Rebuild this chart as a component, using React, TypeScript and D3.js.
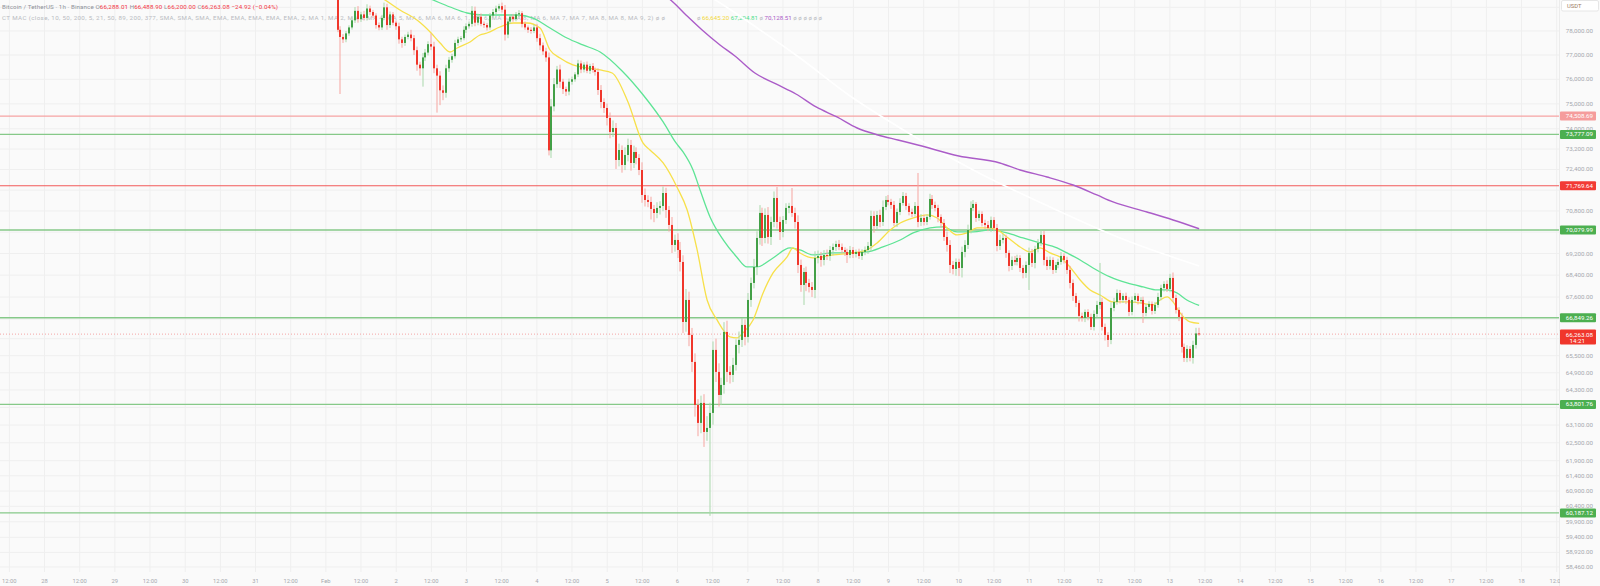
import React from "react";
import * as d3 from "d3";

const HOUR = 3600000;
const firstCandleTime = Date.UTC(2026, 1, 1, 4);
const firstOpen = 79400;

const closes = [
  78050, 77750, 77650, 77900, 78150, 78450, 78850, 78500, 78700, 78550,
  78950, 78800, 78650, 78250, 78150, 78550, 79000, 78250, 78700, 78350,
  78200, 77650, 77500, 77750, 77850, 77700, 77200, 76600, 76450, 76900,
  77100, 77450, 77350, 76450, 76150, 75550, 75450, 76450, 76800, 76950,
  77500, 77650, 77700, 78050, 78200, 78300, 78850, 78350, 78600, 78300,
  78250, 78150, 78650, 78800, 78950, 79050, 78900, 77850, 78400, 78600,
  78500, 78700, 78750, 78300, 78150, 78050, 78000, 78150, 77700, 77400,
  77150, 76900, 73150, 74900, 75800, 76400, 75900, 75600, 75500, 75900,
  76000, 76200, 76650, 76400, 76600, 76350, 76546, 76381, 76300, 75563,
  75077, 74836, 74434, 73876, 74034, 72771, 73163, 72576, 72967, 73361,
  72654, 73085, 72850, 72380, 71414, 71222, 71146, 70879, 70726, 70917,
  70993, 71490, 70840, 70271, 69519, 69706, 69332, 68886, 66698, 67492,
  66234, 65279, 63786, 63172, 63855, 62866, 63002, 63512, 65702, 64929,
  64130, 64476, 66341, 64929, 64825, 65174, 65879, 66056, 66591, 66163,
  67492, 68112, 68701, 69782, 70726, 69782, 70650, 69819, 70384, 71299,
  70384, 70007, 70460, 70917, 70993, 70726, 70384, 68775, 68039, 68516,
  68112, 67966, 67856, 69034, 69109, 68960, 69146, 69109, 69332, 69444,
  69557, 69444, 69332, 69258, 69146, 69332, 69183, 69258, 69109, 69258,
  69332, 69482, 70612, 70233, 70650, 70384, 70955, 71222, 71146, 71031,
  70346, 70764, 71108, 71375, 70993, 70764, 70688, 70993, 70384, 70536,
  70384, 70574, 71260, 71031, 70917, 70574, 70346, 69819, 69519, 68775,
  68627, 68886, 68664, 69258, 69519, 70082, 70917, 71070, 70536, 70688,
  70346, 70271, 70158, 70460, 70158, 69482, 69706, 69782, 69221, 68738,
  68960, 68886, 69034, 68664, 68480, 68775, 69221, 68849, 69370, 69594,
  69895, 68960, 68738, 68960, 68590, 68775, 68886, 69109, 68960, 68590,
  68112, 67638, 67383, 66914, 66842, 67058, 66878, 66520, 66986, 67311,
  67420, 66520, 66234, 66056, 67202, 67420, 67747, 67492, 67638, 67492,
  67058, 67492, 67638, 67456, 67492, 67022, 67239, 67347, 67094, 67311,
  67601, 67929, 68076, 67893, 68296, 67565, 67130, 66878, 65808, 65420,
  65737, 65420, 65879, 66288.01, 66263.08,
];

const wickUp = [
  300, 150, 120, 100, 90, 130, 160, 200, 110, 150,
  180, 120, 90, 100, 110, 130, 200, 150, 120, 100,
  90, 150, 110, 100, 120, 200, 130, 150, 120, 180,
  150, 120, 450, 200, 150, 180, 200, 150, 120, 100,
  130, 110, 90, 150, 120, 100, 200, 180, 120, 140,
  100, 90, 110, 130, 120, 100, 150, 200, 130, 110,
  120, 100, 130, 90, 100, 80, 110, 120, 150, 180,
  120, 150, 200, 300, 250, 150, 200, 120, 100, 130,
  110, 90, 150, 120, 100, 130, 90, 120, 100, 150,
  200, 150, 180, 220, 300, 200, 250, 180, 300, 250,
  200, 250, 180, 150, 300, 250, 180, 200, 150, 220,
  180, 250, 200, 150, 300, 200, 250, 300, 250, 400,
  300, 250, 300, 200, 250, 300, 400, 350, 300, 400,
  300, 250, 350, 400, 200, 250, 200, 300, 250, 200,
  250, 200, 300, 250, 300, 200, 250, 300, 200, 250,
  423, 200, 150, 180, 120, 690, 200, 250, 200, 150,
  200, 150, 180, 250, 200, 150, 180, 200, 150, 130,
  120, 150, 130, 100, 120, 150, 110, 90, 120, 100,
  130, 150, 200, 180, 150, 200, 250, 150, 192, 120,
  150, 130, 180, 150, 120, 100, 130, 150, 1271, 150,
  120, 100, 200, 150, 130, 120, 100, 150, 200, 180,
  150, 130, 120, 200, 180, 200, 250, 150, 76, 130,
  100, 120, 150, 130, 110, 150, 200, 150, 120, 100,
  130, 150, 120, 100, 110, 130, 200, 150, 120, 150,
  200, 150, 120, 130, 100, 110, 120, 150, 100, 120,
  150, 130, 110, 100, 120, 90, 100, 120, 130, 150,
  1429, 150, 120, 100, 200, 150, 130, 110, 100, 120,
  100, 130, 110, 90, 100, 120, 110, 100, 90, 110,
  150, 120, 100, 130, 150, 200, 120, 100, 150, 120,
  130, 100, 150, 200, 200.89,
];

const wickDown = [
  100, 2350, 150, 120, 100, 90, 110, 150, 120, 100,
  110, 130, 100, 150, 120, 110, 90, 200, 120, 110,
  150, 180, 200, 120, 100, 130, 200, 250, 300, 750,
  150, 120, 150, 200, 1500, 600, 300, 200, 150, 120,
  100, 120, 110, 90, 130, 100, 120, 150, 110, 100,
  120, 130, 100, 90, 110, 100, 120, 250, 150, 100,
  110, 90, 120, 150, 100, 130, 110, 90, 150, 200,
  150, 180, 200, 300, 200, 150, 250, 200, 180, 150,
  120, 100, 110, 150, 120, 100, 130, 110, 150, 200,
  250, 200, 300, 250, 200, 350, 250, 300, 200, 250,
  300, 200, 250, 200, 300, 250, 200, 400, 350, 200,
  250, 200, 300, 250, 300, 250, 300, 350, 400, 350,
  400, 350, 400, 450, 350, 504, 300, 2912, 400, 350,
  400, 350, 300, 350, 300, 250, 200, 300, 250, 300,
  200, 250, 200, 300, 250, 300, 200, 250, 300, 200,
  250, 300, 200, 150, 200, 150, 250, 300, 250, 728,
  300, 200, 255, 300, 200, 250, 200, 150, 180, 200,
  150, 120, 130, 150, 297, 120, 150, 130, 110, 150,
  120, 150, 200, 250, 150, 200, 150, 120, 130, 150,
  113, 150, 120, 100, 150, 130, 120, 100, 200, 150,
  130, 120, 100, 150, 130, 200, 180, 150, 250, 300,
  200, 250, 300, 350, 200, 150, 130, 120, 150, 110,
  130, 150, 120, 150, 130, 200, 150, 130, 180, 200,
  150, 120, 130, 150, 200, 180, 919, 150, 200, 130,
  120, 200, 150, 130, 150, 110, 120, 100, 130, 150,
  200, 180, 150, 200, 130, 150, 120, 108, 130, 120,
  150, 130, 200, 248, 150, 120, 100, 130, 110, 150,
  150, 120, 110, 130, 100, 359, 120, 100, 130, 110,
  100, 120, 130, 110, 120, 150, 130, 150, 200, 141,
  150, 120, 200, 130, 63.08,
];

// moving averages: [hours after first candle, price]
const maFast: [number, number][] = [
  [12, 79600], [16.2, 79311], [21.3, 78886], [27.1, 78462], [31.6, 77958], [35, 77499], [38.4, 77124],
  [40.8, 77290], [45.2, 77540], [48.6, 77833], [51, 77916], [55.4, 78168], [59.9, 78336], [64.7, 78336],
  [69.1, 78126], [72.5, 77207], [75.9, 76875], [80.3, 76587], [85.1, 76464], [89.6, 76381], [93.7, 76258],
  [99.1, 75077], [104.2, 73440], [106.6, 73163], [111.1, 72654], [115.8, 71722], [119.3, 70840],
  [122.7, 69332], [126.1, 67492], [129.5, 66770], [133.9, 66163], [136.3, 66127], [138.3, 66306],
  [141.8, 66770], [145.2, 67747], [148.6, 68480], [153.4, 69072], [155.4, 69407], [157.8, 69221],
  [162.3, 69034], [169.1, 69146], [175.9, 69221], [180.7, 69332], [184.1, 69594], [188.6, 70082],
  [192, 70346], [196.4, 70536], [201.2, 70650], [204.6, 70536], [208, 70158], [211.4, 69895],
  [214.8, 69970], [218.2, 70158], [221.6, 70158], [225.1, 70082], [228.4, 69819], [232.9, 69444],
  [236.3, 69258], [239.7, 69407], [243.1, 69221], [246.5, 69072], [249.9, 68701], [253.4, 68222],
  [256.8, 67856], [260.2, 67674], [264.6, 67420], [269.4, 67420], [273.8, 67383], [278.3, 67311],
  [280.7, 67492], [283.1, 67601], [285.1, 67420], [287.5, 67022], [290.9, 66698], [294, 66645.2],
];
const maMid: [number, number][] = [
  [28, 79550], [32.6, 79311], [38.4, 79013], [44.2, 78759], [49.7, 78675], [55.4, 78675], [61.2, 78675],
  [66.7, 78546], [72.5, 78126], [78.3, 77707], [83.7, 77416], [89.6, 77124], [97.1, 76340], [104.3, 75360],
  [111.1, 74275], [115.5, 73440], [117.9, 73085], [121.3, 72380], [123.7, 71606], [127.1, 70574],
  [131.6, 69706], [136.2, 69072], [139.7, 68701], [143.1, 68701], [148.6, 69034], [154.4, 69407],
  [157.8, 69332], [162.3, 69146], [169.1, 69221], [174.9, 69221], [180.7, 69258], [186.1, 69444],
  [192, 69706], [196.4, 69970], [202.2, 70158], [206.6, 70195], [211.4, 70007], [216.9, 70007],
  [222.7, 70082], [228.4, 69970], [233.9, 69782], [239.7, 69594], [245.5, 69407], [248.9, 69221],
  [253.4, 68960], [257.8, 68664], [263.6, 68332], [269.4, 68112], [274.9, 67966], [279.6, 67856],
  [283, 67856], [286.4, 67747], [289.8, 67492], [294, 67294.81],
];
const maSlow: [number, number][] = [
  [110, 79600], [112.8, 79397], [118.9, 78675], [124.4, 78042], [130.5, 77416], [135.6, 76958],
  [142.4, 76258], [149.6, 75808], [156.4, 75401], [163.3, 74876], [170.4, 74474], [177.3, 74034],
  [184.4, 73757], [191.2, 73558], [198, 73361], [212, 72928], [226, 72654], [232.9, 72380],
  [242.1, 72109], [251, 71799], [259.1, 71414], [264.6, 71146], [276.2, 70764], [285.1, 70460],
  [294, 70128.51],
];
const maLong: [number, number][] = [
  [125, 79600], [127.8, 79397], [144.2, 78042], [157.8, 76875], [174.9, 75320], [192, 74034],
  [216.9, 72380], [243.1, 70955], [267, 69782], [294, 68738],
];

const priceTicks = [
  79000, 78000, 77000, 76000, 75000, 74000, 73200, 72400, 71600, 70800, 70000, 69200, 68400,
  67600, 66800, 66100, 65500, 64900, 64300, 63700, 63100, 62500, 61900, 61400, 60900, 60400,
  59900, 59400, 58920, 58460,
];

const levelPrices = [74508.69, 73777.09, 71769.64, 70079.99, 66849.26, 63801.76, 60187.12];
const levelKinds = ["resFaded", "support", "resistance", "support", "support", "support", "support"];

const lastPrice = 66263.08;
const countdown = "14:21";
const header = {
  symbol: "Bitcoin / TetherUS · 1h · Binance",
  o: "66,288.01", h: "66,488.90", l: "66,200.00", c: "66,263.08", chg: "−24.92 (−0.04%)",
};
const indicatorTitle =
  "CT MAC (close, 10, 50, 200, 5, 21, 50, 89, 200, 377, SMA, SMA, SMA, EMA, EMA, EMA, EMA, EMA, 2, MA 1, MA 2, MA 3, MA 4, MA 5, MA 6, MA 6, MA 6, 1, MA 6, MA 6, MA 8, MA 6, MA 7, MA 7, MA 8, MA 8, MA 9, 2)  ø  ø";
const indicatorValues = ["66,645.20", "67,294.81", "70,128.51"];

const FONT = "Roboto, 'Liberation Sans', Arial, sans-serif";
const UP = "#43a047";
const DOWN = "#f0362b";
const UP_WICK = "#a9d8ab";
const DOWN_WICK = "#f6a5a0";
const BG = "#fafafa";
const GRID = "#efefef";
const AXIS_TEXT = "#a6a8ae";
const PLOT_RIGHT = 1559;
const PLOT_BOTTOM = 572;

const levelStyle: Record<string, { line: string; box: string; width: number }> = {
  resFaded: { line: "#f6a3a3", box: "#f59c9c", width: 1.2 },
  resistance: { line: "#f25a5a", box: "#f23b35", width: 1.2 },
  support: { line: "#86c989", box: "#4caf50", width: 1.3 },
};

export default function App() {
  const x = d3
    .scaleUtc()
    .domain([new Date(Date.UTC(2026, 0, 28)), new Date(Date.UTC(2026, 1, 18))])
    .range([44.5, 1521.5]);
  const y = d3.scaleLog().domain([58460, 78000]).range([567, 31]);
  const tx = (h: number) => x(new Date(firstCandleTime + h * HOUR));

  const candles = closes.map((c, i) => {
    const o = i === 0 ? firstOpen : closes[i - 1];
    return {
      i,
      o,
      c,
      h: Math.max(o, c) + wickUp[i],
      l: Math.min(o, c) - wickDown[i],
    };
  });

  const timeTicks = d3
    .utcHour.every(12)!
    .range(new Date(Date.UTC(2026, 0, 27, 12)), new Date(Date.UTC(2026, 1, 18, 13)));
  const fmtMonth = d3.utcFormat("%b");
  const tickLabel = (d: Date) => {
    if (d.getUTCHours() === 12) return "12:00";
    if (d.getUTCDate() === 1) return fmtMonth(d);
    return String(d.getUTCDate());
  };
  const fmtPrice = d3.format(",.2f");

  const maLine = d3
    .line<[number, number]>()
    .x((d) => tx(d[0]))
    .y((d) => y(d[1]))
    .curve(d3.curveMonotoneX);

  const lastY = y(lastPrice);

  // tick labels whose centre falls inside a price-label box (or the currency box) are covered
  const boxSpans: [number, number][] = [
    ...levelPrices.map((p) => [y(p) - 4.5, y(p) + 4.5] as [number, number]),
    [lastY - 4.5, lastY + 10.5],
    [0, 11],
  ];
  const visibleTicks = priceTicks.filter((p) => {
    const py = y(p);
    return !boxSpans.some(([a, b]) => py >= a && py <= b);
  });

  return (
    <svg
      width={1600}
      height={586}
      style={{ position: "absolute", left: 0, top: 0, display: "block" }}
      fontFamily={FONT}
    >
      <defs>
        <clipPath id="plot">
          <rect x={0} y={0} width={PLOT_RIGHT} height={PLOT_BOTTOM} />
        </clipPath>
        <clipPath id="timeaxis">
          <rect x={0} y={PLOT_BOTTOM} width={PLOT_RIGHT + 1} height={586 - PLOT_BOTTOM} />
        </clipPath>
      </defs>
      <rect x={0} y={0} width={1600} height={586} fill={BG} />

      {/* grid */}
      <g>
        {timeTicks.map((d, k) => (
          <line key={"vg" + k} x1={x(d)} x2={x(d)} y1={0} y2={PLOT_BOTTOM} stroke={GRID} strokeWidth={1} />
        ))}
        {priceTicks.map((p) => (
          <line key={"hg" + p} x1={0} x2={PLOT_RIGHT} y1={y(p)} y2={y(p)} stroke={GRID} strokeWidth={1} />
        ))}
        <line x1={PLOT_RIGHT + 0.5} x2={PLOT_RIGHT + 0.5} y1={0} y2={586} stroke="#ececec" />
      </g>

      {/* header */}
      <g fontSize={6.2}>
        <text x={2} y={6.5} dominantBaseline="central" fill="#8f929a" textLength={276} lengthAdjust="spacing">
          {header.symbol}
          <tspan>{"  O"}</tspan>
          <tspan fill="#f23645">{header.o}</tspan>
          <tspan>{" H"}</tspan>
          <tspan fill="#f23645">{header.h}</tspan>
          <tspan>{" L"}</tspan>
          <tspan fill="#f23645">{header.l}</tspan>
          <tspan>{" C"}</tspan>
          <tspan fill="#f23645">{header.c}</tspan>
          <tspan fill="#f23645">{" " + header.chg}</tspan>
        </text>
        <text x={2} y={18} dominantBaseline="central" fill="#b9bbc1" textLength={663} lengthAdjust="spacing">
          {indicatorTitle}
        </text>
        <text x={697} y={18} dominantBaseline="central" fill="#b9bbc1">
          {"ø "}
          <tspan fill="#f2d83a">{indicatorValues[0]}</tspan>
          <tspan fill="#4fe08a">{" " + indicatorValues[1]}</tspan>
          <tspan>{" ø "}</tspan>
          <tspan fill="#ab5cc8">{indicatorValues[2]}</tspan>
          <tspan>{"  ø  ø  ø  ø  ø  ø"}</tspan>
        </text>
      </g>

      <g clipPath="url(#plot)">
        {/* level lines */}
        {levelPrices.map((p, k) => (
          <line
            key={"lv" + p}
            x1={0}
            x2={PLOT_RIGHT}
            y1={y(p)}
            y2={y(p)}
            stroke={levelStyle[levelKinds[k]].line}
            strokeWidth={levelStyle[levelKinds[k]].width}
          />
        ))}
        <line x1={0} x2={PLOT_RIGHT} y1={lastY} y2={lastY} stroke="#f4a5a5" strokeWidth={1} strokeDasharray="1,2" />

        {/* moving averages */}
        <path d={maLine(maLong) || ""} fill="none" stroke="#ffffff" strokeWidth={1.6} />
        <path d={maLine(maSlow) || ""} fill="none" stroke="#ab5cc8" strokeWidth={1.4} />
        <path d={maLine(maMid) || ""} fill="none" stroke="#5ee495" strokeWidth={1.3} />
        <path d={maLine(maFast) || ""} fill="none" stroke="#f7e04a" strokeWidth={1.3} />

        {/* candles */}
        {candles.map((d) => {
          const cx = Math.round(tx(d.i));
          const up = d.c >= d.o;
          const yo = y(d.o);
          const yc = y(d.c);
          const top = Math.min(yo, yc);
          const hgt = Math.max(1, Math.abs(yo - yc));
          return (
            <g key={"c" + d.i}>
              <line x1={cx} x2={cx} y1={y(d.h)} y2={y(d.l)} stroke={up ? UP_WICK : DOWN_WICK} strokeWidth={1} />
              <rect x={cx - 1} y={top} width={2} height={hgt} fill={up ? UP : DOWN} />
            </g>
          );
        })}
      </g>

      {/* price axis */}
      <g fontSize={6.2} fill={AXIS_TEXT} textAnchor="end">
        {visibleTicks.map((p) => (
          <text key={"pt" + p} x={1593} y={y(p)} dominantBaseline="central">
            {fmtPrice(p)}
          </text>
        ))}
      </g>

      {/* level labels */}
      <g fontSize={6.2} textAnchor="end">
        {levelPrices.map((p, k) => (
          <g key={"lb" + p}>
            <rect x={1560} y={y(p) - 4.5} width={36} height={9} rx={1} fill={levelStyle[levelKinds[k]].box} />
            <text x={1593} y={y(p)} dominantBaseline="central" fill="#ffffff">
              {fmtPrice(p)}
            </text>
          </g>
        ))}
        <rect x={1560} y={lastY - 4.5} width={36} height={15} rx={1} fill="#f0362b" />
        <text x={1593} y={lastY + 0.5} dominantBaseline="central" fill="#ffffff">
          {fmtPrice(lastPrice)}
        </text>
        <text x={1585} y={lastY + 6.5} dominantBaseline="central" fill="#ffffff">
          {countdown}
        </text>
      </g>

      {/* currency box */}
      <rect x={1561.5} y={0.5} width={37} height={10.5} rx={1.5} fill="#ffffff" stroke="#e6e6e6" />
      <text x={1567} y={6} fontSize={5.8} dominantBaseline="central" fill="#9c7b62">
        USDT
      </text>

      {/* time axis */}
      <g clipPath="url(#timeaxis)" fontSize={5.8} fill={AXIS_TEXT} textAnchor="middle">
        {timeTicks.map((d, k) => (
          <text key={"tt" + k} x={x(d)} y={581} dominantBaseline="central">
            {tickLabel(d)}
          </text>
        ))}
      </g>
    </svg>
  );
}
